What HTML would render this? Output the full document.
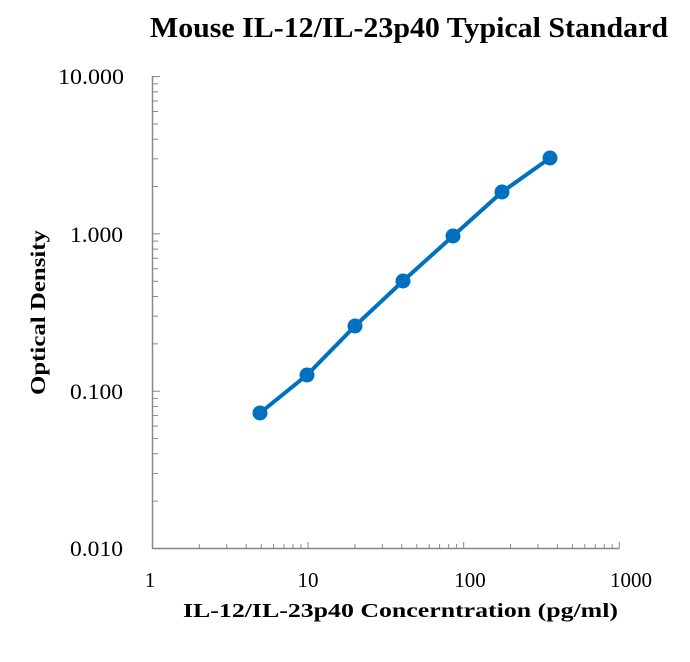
<!DOCTYPE html>
<html><head><style>
body{margin:0;background:#fff}
svg text{font-family:"Liberation Serif",serif;fill:#000}
</style></head><body>
<svg width="690" height="657" viewBox="0 0 690 657" xmlns="http://www.w3.org/2000/svg">
<text x="150" y="37" font-size="28" font-weight="bold" textLength="518" lengthAdjust="spacingAndGlyphs">Mouse IL-12/IL-23p40 Typical Standard</text>
<g stroke="#888" stroke-width="1.5" fill="none">
<path d="M152.5,76 V548.5 H619.5"/>
</g>
<g id="ticks" stroke="#888" stroke-width="1"></g>
<g font-size="22">
<text x="58" y="84" textLength="66" lengthAdjust="spacingAndGlyphs">10.000</text>
<text x="70" y="242" textLength="53" lengthAdjust="spacingAndGlyphs">1.000</text>
<text x="70" y="399" textLength="53" lengthAdjust="spacingAndGlyphs">0.100</text>
<text x="70" y="556" textLength="53" lengthAdjust="spacingAndGlyphs">0.010</text>
</g>
<g font-size="21" text-anchor="middle">
<text x="150" y="587">1</text>
<text x="308" y="587">10</text>
<text x="470" y="587">100</text>
<text x="631" y="587">1000</text>
</g>
<text x="183" y="617" font-size="20" font-weight="bold" textLength="435" lengthAdjust="spacingAndGlyphs">IL-12/IL-23p40 Concerntration (pg/ml)</text>
<text transform="translate(45,395) rotate(-90)" font-size="21" font-weight="bold" textLength="165" lengthAdjust="spacingAndGlyphs">Optical Density</text>
<polyline points="260,413 307,375 355,326 403,281 453,236 502,192 550,158" fill="none" stroke="#0070c0" stroke-width="4" stroke-linejoin="round"/>
<g fill="#0070c0">
<circle cx="260" cy="413" r="7.5"/><circle cx="307" cy="375" r="7.5"/><circle cx="355" cy="326" r="7.5"/>
<circle cx="403" cy="281" r="7.5"/><circle cx="453" cy="236" r="7.5"/><circle cx="502" cy="192" r="7.5"/>
<circle cx="550" cy="158" r="7.5"/>
</g>
</svg>
<script>
var g=document.getElementById('ticks'),s='';
for(var d=0;d<3;d++)for(var k=2;k<=10;k++){var x=152.5+155.6*(d+Math.log10(k));s+='<line x1="'+x+'" x2="'+x+'" y1="548" y2="'+(k==10?542:544)+'"/>';}
for(var d=0;d<3;d++)for(var k=2;k<=10;k++){var y=548.5-157.3*(d+Math.log10(k));s+='<line x1="152" x2="'+(k==10?160:158)+'" y1="'+y+'" y2="'+y+'"/>';}
g.innerHTML=s;
</script>
</body></html>
